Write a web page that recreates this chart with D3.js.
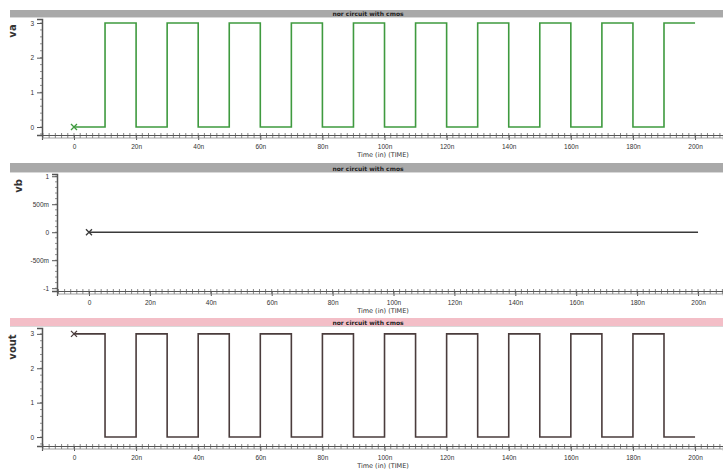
<!DOCTYPE html>
<html>
<head>
<meta charset="utf-8">
<script src="https://cdn.jsdelivr.net/npm/d3@7"></script>
<style>
  body { margin: 0; background: #ffffff; }
  svg { display: block; font-family: "DejaVu Sans", sans-serif; }
  .tick text { fill: #333; }
</style>
</head>
<body>
<div id="plot"></div>
<script>
"use strict";

//
//   DATA
//

var TITLE = "nor circuit with cmos";
var X_LABEL = "Time (in) (TIME)";

// step times in ns and signal levels in V
var vaTimes = [0, 10, 20, 30, 40, 50, 60, 70, 80, 90, 100, 110, 120, 130, 140, 150, 160, 170, 180, 190, 200];
var vaLevels = [0, 3, 0, 3, 0, 3, 0, 3, 0, 3, 0, 3, 0, 3, 0, 3, 0, 3, 0, 3, 3];

var vbTimes = [0, 200];
var vbLevels = [0, 0];

var voutTimes = [0, 10, 20, 30, 40, 50, 60, 70, 80, 90, 100, 110, 120, 130, 140, 150, 160, 170, 180, 190, 200];
var voutLevels = [3, 0, 3, 0, 3, 0, 3, 0, 3, 0, 3, 0, 3, 0, 3, 0, 3, 0, 3, 0, 0];

var xTicks = [0, 20, 40, 60, 80, 100, 120, 140, 160, 180, 200];
var xTickLabels = ["0", "20n", "40n", "60n", "80n", "100n", "120n", "140n", "160n", "180n", "200n"];

var vaTicks = [0, 1, 2, 3];
var vaTickLabels = ["0", "1", "2", "3"];
var vbTicks = [-1, -0.5, 0, 0.5, 1];
var vbTickLabels = ["-1", "-500m", "0", "500m", "1"];

//
//   LAYOUT
//

var W = 723, H = 473;

var panels = [
    { name: "va", times: vaTimes, levels: vaLevels, ticks: vaTicks, tickLabels: vaTickLabels,
      color: "#3f9a3f", bar: "#a9a9a9", barTop: 10, plotTop: 19, axisY: 135,
      left: 42, xDom: [-10.3, 209], yDom: [-0.23, 3.115], labelX: 16, labelY: 31 },
    { name: "vb", times: vbTimes, levels: vbLevels, ticks: vbTicks, tickLabels: vbTickLabels,
      color: "#3a3a3a", bar: "#a9a9a9", barTop: 163, plotTop: 174, axisY: 291,
      left: 57, xDom: [-10.5, 208.2], yDom: [-1.05, 1.04], labelX: 22, labelY: 186 },
    { name: "vout", times: voutTimes, levels: voutLevels, ticks: vaTicks, tickLabels: vaTickLabels,
      color: "#4a3c3c", bar: "#f3bec7", barTop: 318, plotTop: 328, axisY: 446,
      left: 42, xDom: [-10.3, 209], yDom: [-0.26, 3.17], labelX: 16, labelY: 347 }
];

var svg = d3.select("#plot").append("svg")
    .attr("width", W)
    .attr("height", H);

panels.forEach(drawPanel);

function drawPanel(p) {
    var g = svg.append("g");

    // title bar
    g.append("rect")
        .attr("x", 10).attr("y", p.barTop)
        .attr("width", W - 10).attr("height", p.plotTop - p.barTop - 1)
        .attr("fill", p.bar);
    g.append("line")
        .attr("x1", 10).attr("x2", W)
        .attr("y1", p.plotTop - 1.5).attr("y2", p.plotTop - 1.5)
        .attr("stroke", "#d8d8d8").attr("stroke-width", 1);
    g.append("text")
        .text(TITLE)
        .attr("x", 368).attr("y", p.plotTop - 3.5)
        .attr("text-anchor", "middle")
        .attr("font-size", 6)
        .attr("font-weight", "bold")
        .attr("fill", "#222");

    var x = d3.scaleLinear().domain(p.xDom).range([p.left, W]);
    var y = d3.scaleLinear().domain(p.yDom).range([p.axisY, p.plotTop]);

    // minor x ticks (every 2n)
    var minor = x.ticks(110).filter(function (t) { return t % 2 === 0; });
    g.selectAll("line.minorx").data(minor).enter().append("line")
        .attr("class", "minorx")
        .attr("x1", function (d) { return x(d); }).attr("x2", function (d) { return x(d); })
        .attr("y1", p.axisY - 2).attr("y2", p.axisY + 3)
        .attr("stroke", "#666").attr("stroke-width", 0.8);

    // x axis
    var xAxis = d3.axisBottom(x)
        .tickValues(xTicks)
        .tickFormat(function (d, i) { return xTickLabels[i]; })
        .tickSize(5)
        .tickPadding(4);
    var xg = g.append("g")
        .attr("transform", "translate(0," + p.axisY + ")")
        .call(xAxis);
    xg.select(".domain").attr("stroke", "#555").attr("stroke-width", 1.2);
    xg.selectAll(".tick line").attr("stroke", "#555");
    xg.selectAll("text").attr("font-size", 6.5).attr("fill", "#333");
    g.append("line")
        .attr("x1", p.left).attr("x2", W)
        .attr("y1", p.axisY + 3).attr("y2", p.axisY + 3)
        .attr("stroke", "#888").attr("stroke-width", 0.8);

    g.append("text")
        .text(X_LABEL)
        .attr("x", 383).attr("y", p.axisY + 22)
        .attr("text-anchor", "middle")
        .attr("font-size", 6.5)
        .attr("fill", "#333");

    // minor y ticks
    var yMinor = y.ticks(20);
    g.selectAll("line.minory").data(yMinor).enter().append("line")
        .attr("class", "minory")
        .attr("x1", p.left - 2).attr("x2", p.left)
        .attr("y1", function (d) { return y(d); }).attr("y2", function (d) { return y(d); })
        .attr("stroke", "#777").attr("stroke-width", 0.8);

    // y axis
    var yAxis = d3.axisLeft(y)
        .tickValues(p.ticks)
        .tickFormat(function (d, i) { return p.tickLabels[i]; })
        .tickSize(5)
        .tickPadding(3);
    var yg = g.append("g")
        .attr("transform", "translate(" + p.left + ",0)")
        .call(yAxis);
    yg.select(".domain").attr("stroke", "#555").attr("stroke-width", 1.5);
    yg.selectAll(".tick line").attr("stroke", "#555");
    yg.selectAll("text").attr("font-size", 6.5).attr("fill", "#333");

    // signal name
    g.append("text")
        .text(p.name)
        .attr("transform", "translate(" + p.labelX + "," + p.labelY + ") rotate(-90)")
        .attr("text-anchor", "middle")
        .attr("font-size", 10)
        .attr("font-weight", "bold")
        .attr("fill", "#333");

    // waveform
    var pts = p.times.map(function (t, i) { return [t, p.levels[i]]; });
    var line = d3.line()
        .x(function (d) { return x(d[0]); })
        .y(function (d) { return y(d[1]); })
        .curve(d3.curveStepAfter);
    g.append("path")
        .attr("d", line(pts))
        .attr("fill", "none")
        .attr("stroke", p.color)
        .attr("stroke-width", 1.6);

    // start marker
    var mx = x(pts[0][0]), my = y(pts[0][1]);
    g.append("path")
        .attr("d", "M" + (mx - 3) + "," + (my - 3) + "L" + (mx + 3) + "," + (my + 3) +
                   "M" + (mx - 3) + "," + (my + 3) + "L" + (mx + 3) + "," + (my - 3))
        .attr("stroke", p.color)
        .attr("stroke-width", 1.3);
}
</script>
</body>
</html>
